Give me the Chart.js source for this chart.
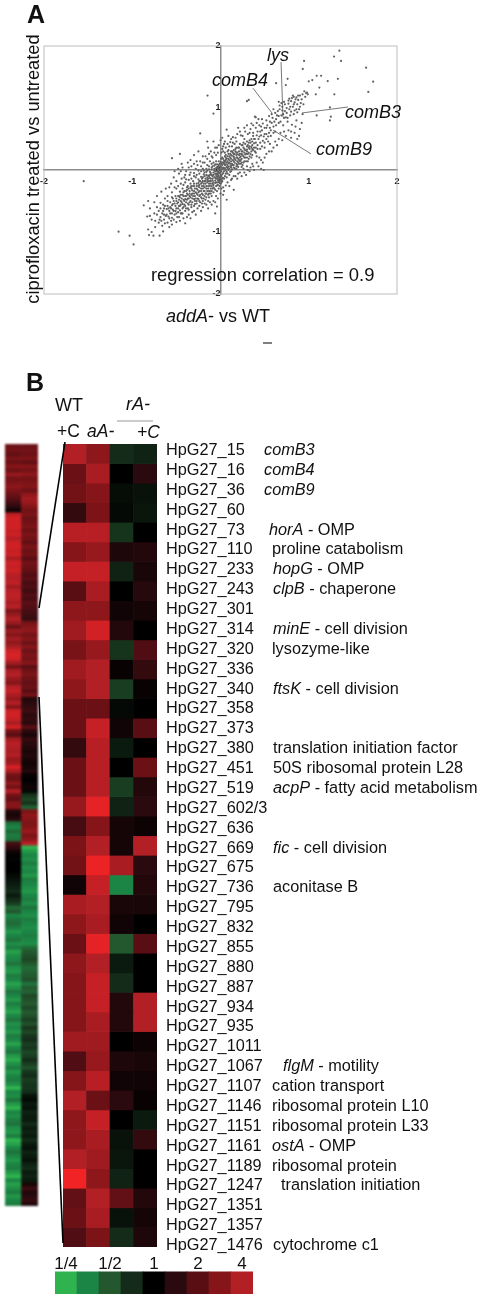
<!DOCTYPE html>
<html>
<head>
<meta charset="utf-8">
<script src="https://cdn.jsdelivr.net/npm/chart.js@4"></script>
<style>
  html, body { margin: 0; padding: 0; background: #fff; }
  #page { position: relative; width: 484px; height: 1300px; overflow: hidden; font-family: "Liberation Sans", Arial, sans-serif; color: #111; }
  canvas { position: absolute; }
  .t { position: absolute; white-space: pre; line-height: 1; transform: translateY(-50%); }
  .i { font-style: italic; }
  .b { font-weight: bold; }
</style>
</head>
<body>
<div id="page">
  <canvas id="scatter" width="484" height="340" style="left:0;top:0;filter:blur(0.3px)"></canvas>
  <canvas id="overview" width="33" height="762" style="left:5px;top:444px;filter:blur(1.1px)"></canvas>
  <canvas id="detail" width="94" height="803" style="left:63px;top:444px;filter:blur(0.5px)"></canvas>
  <canvas id="legend" width="198" height="37" style="left:55px;top:1257px;filter:blur(0.3px)"></canvas>
  <canvas id="connectors" width="484" height="1300" style="left:0;top:0"></canvas>

  <span class="t b" style="left:27px;top:14px;font-size:25px">A</span>
  <span class="t" style="left:33px;top:169px;font-size:18.3px;transform:translate(-50%,-50%) rotate(-90deg)">ciprofloxacin treated vs untreated</span>
  <span class="t" style="left:166px;top:316px;font-size:18px"><span class="i">addA</span>- vs WT</span>
  <span class="t" style="left:151px;top:275px;font-size:18.4px">regression correlation = 0.9</span>
  <span class="t i" style="left:267px;top:55px;font-size:18px">lys</span>
  <span class="t i" style="left:212px;top:80px;font-size:18px">comB4</span>
  <span class="t i" style="left:345px;top:112px;font-size:18px">comB3</span>
  <span class="t i" style="left:316px;top:149px;font-size:18px">comB9</span>

  <span class="t b" style="left:26px;top:382px;font-size:25px">B</span>
  <span class="t" style="left:55px;top:405px;font-size:18px">WT</span>
  <span class="t" style="left:57px;top:432px;font-size:17.5px">+C</span>
  <span class="t i" style="left:87px;top:432px;font-size:17.5px">aA-</span>
  <span class="t i" style="left:126px;top:404px;font-size:18px">rA-</span>
  <span class="t i" style="left:137px;top:433px;font-size:17.5px">+C</span>
</div>
<script>
  // 图 A: 散点 [addA- vs WT, ciprofloxacin treated vs untreated]
  const scatterPoints = [
    [-1.55,-.18],[-1.155,-.995],[-1.03,-1.06],[-.985,-1.2],[-.147,1.2],[-.08,.91],[.32,1.13],[.3,1.11],
    [1.347,1.925],[1.287,1.83],[1.366,1.76],[.947,1.76],[.932,1.63],[1.65,1.65],[1.73,1.425],[1.675,1.26],[1.33,1.47],[1.215,1.435],
    [1.14,1.52],[1.09,1.52],[1.04,1.45],[1,1.43],[1.12,1.33],[1.08,1.22],[1.29,1.22],[1.24,1.01],[1.25,.86],[1.24,.8],[1.09,.88],
    [.97,1.24],[.76,1.47],[.63,1.4],[.74,1.37],[.66,1.1],[.83,1.18],[.98,1.25],[.95,1.27],[.99,1.22],[.9,1.2],[.86,1.17],[.82,1.2],
    [.78,1.15],[.72,1.1],[.69,1.08],[.77,1.07],[.8,1.11],[.84,1.09],[.88,1.13],[.91,1.08],[.75,1],[.7,1.02],[.67,.98],[.73,.95],[.78,.98],[.82,1.02],[.86,.98],[.9,1.02],[.94,1.06],[.87,.93],[.83,.9],[.79,.88],[.74,.85],[.71,.9],[.66,.87],[.62,.92],[.6,.98],[.58,.9],[.55,.87],[.63,.82],[.68,.78],[.76,.78],[.81,.73],[.86,.8],[.93,.9],[.92,.76],[.84,.6],[.89,.55],[.87,.5],[.8,.52],[.74,.55],[.7,.48],[.64,.4],[.58,.3],
    [.56,.78],[.52,.8],[.48,.75],[.4,.85],[.39,.86],[.43,.82],[.46,.7],[.52,.68],[.57,.64],[.6,.7],[.62,.62],[.55,.6],[.5,.58],[.45,.62],[.4,.68],[.35,.75],[.3,.72],[.28,.62],[.33,.6],[.37,.55],[.43,.5],[.48,.47],[.52,.5],[.56,.42],[.47,.38],[.42,.4],[.38,.43],[.33,.48],[.27,.5],[.23,.56],[.2,.68],[.25,.4],[.3,.38],[.35,.3],[.4,.28],[.44,.2],[.48,.12],[.46,.02],[.49,0],[.38,0],[.36,.1],[.32,.18],[.28,.25],[.24,.3],[.2,.36],[.16,.42],[.12,.5],[.07,.65],[.09,.55],[.13,.38],[.18,.28],[.22,.2],[.26,.12],[.3,.06],[.33,-.02],[.24,.05],[.2,.12],[.16,.18],[.12,.24],[.08,.3],[.04,.42],[.02,.52],[0,.48],[.06,.2],[.1,.12],[.14,.08],[.18,.02],[.22,-.04],[.17,-.1],[.12,-.02],[.08,.03],[.04,.1],[.01,.18],[-.03,.28],[-.06,.36],[-.08,.46],[-.15,.46],[-.23,.59],[-.14,.36],
    [-.55,.19],[-.46,.26],[-.44,.1],[-.34,.16],[-.3,.24],[-.25,.3],[-.2,.22],[-.18,.12],[-.22,.06],[-.28,.02],[-.36,.04],[-.45,-.02],[-.47,-.06],[-.41,-.12],[-.35,-.08],[-.3,-.05],[-.25,-.01],[-.2,.02],[-.15,.08],[-.12,.14],[-.09,.2],[-.05,.14],[-.02,.08],[.01,.04],[.04,.02],[.07,-.03],[.1,-.08],[.13,-.14],[.15,-.32],[.07,-.48],[-.04,-.59],[-.06,-.7],[.03,-.4],[.06,-.25],[.02,-.18],[-.01,-.12],[-.04,-.06],[-.07,-.01],[-.1,.04],[-.13,.01],[-.16,-.03],[-.19,-.07],[-.22,-.11],[-.25,-.15],[-.28,-.12],[-.31,-.18],[-.34,-.22],[-.37,-.26],[-.4,-.2],[-.43,-.3],[-.46,-.35],
    [.11,.2],[.15,.26],[.19,.2],[.23,.16],[.27,.2],[.31,.26],[.35,.2],[.29,.14],[.25,.24],[.21,.3],[.17,.34],[.13,.3],[.09,.26],[.05,.22],[.03,.3],[.07,.12],[.11,.06],[.15,.14],[.19,.08],[.23,.1],[.26,.02],[.28,.32],[.32,.36],[.36,.4],[.4,.36],[.34,.44],[.38,.5],[.3,.46],[.26,.44],[.22,.42],[.18,.46],[.14,.44],[.1,.38],[.06,.36],[.02,.34],
    [-.02,.02],[-.04,-.02],[.0,-.03],[.02,-.07],[.05,-.1],[-.02,-.1],[-.05,-.14],[-.08,-.08],[-.11,-.05],[-.14,-.09],[-.12,-.13],[-.09,-.17],[-.06,-.21],[-.03,-.16],[0,-.22],[.03,-.28],[-.02,-.3],[-.05,-.26],[-.08,-.28],[-.11,-.22],[-.14,-.18],[-.17,-.14],[-.2,-.18],[-.17,-.22],[-.14,-.26],[-.11,-.3],[-.08,-.36],[-.05,-.42],[-.1,-.42],[-.13,-.34],[-.16,-.3],[-.19,-.26],[-.22,-.22],[-.25,-.26],[-.22,-.3],[-.19,-.34],[-.16,-.38],[-.13,-.44],[-.18,-.42],[-.21,-.38],[-.24,-.34],[-.27,-.3],[-.3,-.26],[-.33,-.3],[-.3,-.34],[-.27,-.38],[-.24,-.42],[-.21,-.46],[-.26,-.46],[-.29,-.42],[-.32,-.38],[-.35,-.34],[-.38,-.38],[-.35,-.42],[-.32,-.46],[-.29,-.5],[-.34,-.5],[-.37,-.46],[-.4,-.42],[-.43,-.4],[-.46,-.44],[-.42,-.48],[-.39,-.52],[-.36,-.56],[-.41,-.56],[-.44,-.52],[-.47,-.48],[-.5,-.46],[-.53,-.5],[-.49,-.54],[-.46,-.58],[-.43,-.62],[-.48,-.62],[-.51,-.58],[-.54,-.55],[-.57,-.52],[-.6,-.58],[-.56,-.62],[-.53,-.66],[-.5,-.7],[-.55,-.7],[-.58,-.66],[-.61,-.63],[-.64,-.62],[-.66,-.7],[-.62,-.74],[-.58,-.78],[-.53,-.8],[-.6,-.85],[-.64,-.8],[-.68,-.76],[-.72,-.72],[-.7,-.85],[-.66,-.9],[-.74,-.92],
    [-.87,-.57],[-.82,-.5],[-.8,-.62],[-.75,-.52],[-.83,-.75],[-.8,-.74],[-.82,-.96],[-.81,-1.05],[-.78,-1],[-.76,-1.06],[-.69,-1.06],[-.65,-.99],[-.72,-.6],[-.68,-.53],[-.63,-.46],[-.6,-.42],[-.55,-.36],[-.5,-.3],[-.56,-.22],[-.5,-.18],[-.44,-.14],[-.4,-.08],[-.34,-.04],[-.38,-.28],
    [-.24,-.06],[-.27,-.08],[-.3,-.1],[-.33,-.14],[-.36,-.16],[-.39,-.15],[-.42,-.24],[-.45,-.22],[-.48,-.26],[-.52,-.28],[-.55,-.44],[-.6,-.5],[-.65,-.56],[-.7,-.66],[-.75,-.7],[-.78,-.8],[-.74,-.82],[-.69,-.8],[-.64,-.72],[-.45,-.7],[-.4,-.66],[-.37,-.62],[-.33,-.6],[-.3,-.58],[-.27,-.54],[-.23,-.52],[-.2,-.5],[-.17,-.48],[-.14,-.5],[-.1,-.56],[-.16,-.56],[-.2,-.6],[-.26,-.62],[-.32,-.68],[-.36,-.72],[-.42,-.78],[-.46,-.82],[-.4,-.86],
    [-.09,-.1],[-.06,-.06],[-.03,-.08],[-.12,-.08],[-.15,-.12],[-.18,-.1],[-.21,-.14],[-.24,-.18],[-.27,-.22],[-.3,-.22],[-.33,-.26],[-.36,-.3],[-.39,-.34],[-.42,-.36],[-.45,-.4],[-.48,-.42],[-.51,-.42],[-.54,-.46],[-.24,-.24],[-.21,-.2],[-.18,-.18],[-.15,-.16],[-.12,-.18],[-.09,-.22],[-.06,-.12],[-.03,-.2],[0,-.16],[.03,-.13],[.06,-.06],[.09,.0],[.12,.04],[.15,.04],[.18,.1],[.21,.16],[.24,.12],[-.01,.1],[.02,.12],[.05,.08],[.08,.08],[.03,.18],[.06,.16],[.09,.18],[.12,.14],[.15,.2],[.18,.24],[.21,.24],[.24,.26],[.27,.28],[.3,.3],[.33,.34],[.36,.34],[.39,.3],[.42,.34],[.45,.44],[.5,.44],[.54,.54],[-.1,.1],[-.13,.06],[-.16,.02],[-.19,-.01],[-.22,-.02],[-.07,.07],[-.04,.04],[-.02,-.05],[.0,.0]
  ];

  // 中心密集带，按 x 从左到右补读
  const scatterCore = [
    [-.68,-.62],[-.67,-.82],[-.65,-.66],[-.63,-.58],[-.63,-.86],[-.61,-.72],[-.59,-.62],[-.59,-.75],[-.57,-.6],[-.57,-.7],[-.56,-.82],[-.55,-.57],[-.55,-.77],[-.54,-.64],[-.52,-.54],[-.52,-.72],[-.51,-.66],[-.5,-.5],[-.5,-.62],[-.49,-.76],[-.48,-.52],[-.48,-.68],[-.47,-.58],[-.47,-.42],[-.46,-.65],[-.45,-.5],[-.45,-.56],[-.44,-.46],[-.44,-.7],[-.43,-.55],[-.42,-.42],[-.42,-.6],[-.41,-.5],[-.41,-.34],[-.4,-.47],[-.4,-.58],[-.39,-.42],[-.39,-.62],[-.38,-.48],[-.38,-.32],[-.37,-.54],[-.37,-.4],[-.36,-.46],[-.36,-.64],[-.35,-.38],[-.35,-.52],[-.34,-.28],[-.34,-.44],[-.33,-.56],[-.33,-.4],[-.32,-.33],[-.32,-.52],[-.31,-.42],[-.31,-.26],[-.3,-.47],[-.3,-.38],[-.29,-.3],[-.29,-.55],[-.28,-.36],[-.28,-.46],[-.27,-.26],[-.27,-.5],[-.26,-.32],[-.26,-.4],[-.25,-.21],[-.25,-.47],[-.25,-.36],[-.24,-.28],[-.24,-.5],[-.23,-.4],[-.23,-.18],[-.22,-.34],[-.22,-.44],[-.21,-.26],[-.21,-.54],[-.2,-.3],[-.2,-.4],[-.2,-.12],[-.19,-.22],[-.19,-.46],[-.18,-.34],[-.18,-.04],[-.18,-.28],[-.17,-.18],[-.17,-.38],[-.16,-.26],[-.16,-.08],[-.16,-.44],[-.15,-.2],[-.15,-.34],[-.15,-.01],[-.14,-.14],[-.14,-.3],[-.14,-.4],[-.13,-.22],[-.13,-.1],[-.13,-.38],[-.12,-.03],[-.12,-.26],[-.12,-.34],[-.11,-.14],[-.11,-.18],[-.11,-.38],[-.1,-.08],[-.1,-.26],[-.1,.01],[-.1,-.34],[-.09,-.14],[-.09,-.3],[-.09,.06],[-.08,-.04],[-.08,-.2],[-.08,-.24],[-.08,.12],[-.07,-.12],[-.07,-.3],[-.07,.02],[-.06,-.17],[-.06,-.02],[-.06,-.32],[-.06,.09],[-.05,-.08],[-.05,-.2],[-.05,.03],[-.04,-.11],[-.04,-.25],[-.04,.09],[-.04,-.34],[-.03,-.03],[-.03,-.13],[-.03,.03],[-.03,-.24],[-.02,-.16],[-.02,.06],[-.02,.14],[-.01,-.05],[-.01,-.18],[-.01,.01],[-.01,-.26],[0,-.08],[0,.06],[0,-.13],[0,.13],[.01,-.02],[.01,-.1],[.01,.1],[.02,.02],[.02,-.13],[.02,.08],[.02,.2],[.03,-.05],[.03,.04],[.03,.12],[.04,-.02],[.04,-.14],[.04,.15],[.05,.03],[.05,.13],[.05,.28],[.06,0],[.06,.09],[.06,.24],[.07,.05],[.07,.18],[.07,-.12],[.08,.14],[.08,.22],[.08,-.06],[.09,.05],[.09,.11],[.09,.32],[.1,.02],[.1,.16],[.1,.22],[.11,.1],[.11,.26],[.11,-.03],[.12,.07],[.12,.18],[.12,.3],[.13,.1],[.13,.23],[.13,.01],[.14,.16],[.14,.28],[.15,.08],[.15,.22],[.15,.32],[.16,.12],[.16,.26],[.16,.03],[.17,.16],[.17,.3],[.18,.06],[.18,.2],[.18,.36],[.19,.14],[.19,.28],[.2,.18],[.2,.25],[.2,.05],[.21,.1],[.21,.36],[.22,.14],[.22,.26],[.23,.22],[.23,.33],[.24,.18],[.24,.4],[.25,.08],[.25,.3],[.26,.22],[.26,.36],[.27,.14],[.27,.34],[.28,.2],[.28,.42],[.29,.26],[.3,.2],[.3,.33],[.31,.14],[.31,.4],[.32,.28],[.32,.44],[.33,.22],[.33,.38],[.34,.26],[.35,.37],[.35,.5],[.36,.24],[.36,.46],[.37,.32],[.37,.6],[.38,.36],[.39,.5],[.4,.44],[.41,.56],[.41,.22],[.42,.62],[.44,.54],[.45,.34],[.46,.56],[.47,.64],[.49,.54],[.5,.68],[.5,.36],[.52,.58],[.53,.72],[.54,.46],[.56,.68],[.57,.55],[.58,.76],[.59,.84],[.6,.6],[.61,.78],[.63,.72],[.64,.88],[.65,.95],[.66,.76],[.67,1.04],[.69,.88],[.7,.96],[.71,.72],[.72,.84],[.73,1.06],[.75,.92],[.76,.84],[.77,1.12],[.79,1.02],[.8,.94],[.81,1.16],[.83,1.06],[.84,.96],[.85,1.14],[.87,1.06],[.88,1.2],[.89,.98],[.92,1.14],[.93,1.22],[.96,1.18]
  ];

  // 带状边缘的散点
  const scatterFringe = [
    [-.72,-.42],[-.67,-.35],[-.62,-.3],[-.58,-.28],[-.53,-.12],[-.52,-.02],[-.48,.02],[-.43,.04],[-.39,-.02],[-.37,.12],[-.33,.06],[-.3,.1],[-.27,.14],[-.26,.08],[-.23,.14],[-.2,.12],[-.17,.22],[-.15,.18],[-.13,.26],[-.11,.3],[-.1,.22],[-.07,.28],[-.05,.24],[-.04,.36],[-.02,.4],[.01,.28],[.03,.38],[.05,.46],[.08,.42],[.11,.45],[.14,.53],[.17,.52],[.19,.58],[.22,.62],[.25,.55],[.27,.68],[.31,.58],[.34,.66],[.37,.72],[.41,.76],[.44,.72],[.47,.82],
    [-.58,-.92],[-.55,-.88],[-.5,-.84],[-.47,-.76],[-.43,-.7],[-.38,-.76],[-.34,-.78],[-.3,-.66],[-.28,-.72],[-.24,-.58],[-.22,-.66],[-.18,-.54],[-.14,-.62],[-.12,-.52],[-.08,-.5],[-.06,-.52],[-.03,-.46],[0,-.38],[.01,-.3],[.04,-.34],[.08,-.2],[.1,-.26],[.12,-.16],[.15,-.1],[.19,-.14],[.2,-.06],[.24,-.1],[.27,-.04],[.29,-.08],[.31,0],[.34,.04],[.37,.06],[.41,.12],[.43,.06],[.46,.16],[.5,.2],[.52,.26],[.55,.3],[.6,.36],[.62,.46],[.66,.5],[.68,.6],[.72,.62],[.77,.64],[.8,.62],[.85,.7],[.9,.66]
  ];

  // 引线 lys / comB4 / comB3 / comB9
  const lysLine = [{x:.686,y:1.74},{x:.708,y:.855}];
  const comB4Line = [{x:.368,y:1.32},{x:.583,y:.92}];
  const comB3Line = [{x:1.444,y:1.016},{x:.923,y:.92}];
  const comB9Line = [{x:1.025,y:.26},{x:.595,y:.645}];

  // 图 B: 41 个基因的四列 log2 比值，从颜色估读
  const geneIds = ['15','16','36','60','73','110','233','243','301','314','320','336','340','358','373','380','451','519','602/3','636','669','675','736','795','832','855','880','887','934','935','1011','1067','1107','1146','1151','1161','1189','1247','1351','1357','1476'];
  const wtC = [2.0,1.2,1.3,.6,2.1,1.5,2.3,1.0,1.6,1.8,1.35,1.8,1.6,1.2,1.2,.6,1.2,1.2,1.7,.8,1.4,1.3,.2,1.9,1.6,1.2,1.6,1.5,1.5,1.5,1.8,.9,1.5,2.0,1.6,1.6,2.0,3.0,1.1,1.2,.9];
  const aA = [1.6,1.9,1.5,1.4,2.1,1.7,2.3,1.9,1.6,2.5,1.7,2.0,2.0,1.2,2.3,2.1,2.1,2.1,2.8,1.5,2.0,2.9,2.3,2.0,1.9,2.8,2.0,2.3,2.3,1.9,1.8,1.7,2.1,1.2,2.3,1.9,1.8,1.6,2.0,1.9,1.4];
  const rA = [-.5,0,-.15,-.1,-.6,.35,-.4,0,.2,.4,-.6,.1,-.7,-.1,.2,-.3,0,-.7,-.4,.25,.25,1.9,-1.5,.3,.2,-1.0,-.3,-.5,.4,.4,0,.35,.2,.5,0,-.2,-.25,-.4,1.1,-.2,-.5];
  const rAC = [-.4,.5,-.2,-.25,0,.4,.3,.45,.25,0,.9,.6,.1,0,1.0,0,1.2,.4,.5,.15,2.0,.5,.4,.3,0,1.0,0,0,2.0,2.0,.15,.3,.2,.1,-.3,.6,0,0,.4,.25,.35];

  // 基因注释: [行号, 斜体部分, 正常部分, 左边 x]
  const geneNotes = [
    [0,'comB3','',264],[1,'comB4','',264],[2,'comB9','',264],
    [4,'horA',' - OMP',269],[5,'','proline catabolism',272],[6,'hopG',' - OMP',273],
    [7,'clpB',' - chaperone',273],[9,'minE',' - cell division',273],[10,'','lysozyme-like',272],
    [12,'ftsK',' - cell division',273],[15,'','translation initiation factor',273],[16,'','50S ribosomal protein L28',273],
    [17,'acpP',' - fatty acid metabolism',273],[20,'fic',' - cell division',273],[22,'','aconitase B',273],
    [31,'flgM',' - motility',283],[32,'','cation transport',272],[33,'','ribosomal protein L10',272],
    [34,'','ribosomal protein L33',272],[35,'ostA',' - OMP',272],[36,'','ribosomal protein',272],
    [37,'','translation initiation',281],[40,'','cytochrome c1',273]
  ];

  // 左侧总览热图两列，每 10 个一行（每行约 40px）
  const overviewLeft = [
    1.2,1.3,1.1,1.4,1.2,1.5,1.2,1.7,1.3,1.4,
    1.6,1.4,1.2,1.0,.8,.5,.2,2.2,2.5,2.4,
    2.5,2.3,2.4,2.0,2.4,2.5,2.3,2.4,1.9,2.4,
    2.3,2.4,2.1,2.0,2.2,1.8,2.1,2.2,2.1,1.9,
    2.1,1.4,1.7,2.0,1.7,1.2,1.7,1.5,1.8,1.6,
    1.9,2.4,2.6,2.4,1.8,1.3,1.9,2.0,1.7,1.5,
    2.0,2.3,1.9,1.7,2.0,1.5,2.4,2.5,2.3,1.9,
    2.5,1.3,1.0,1.8,2.1,2.0,1.9,2.0,1.7,1.8,
    2.6,1.9,1.3,1.2,1.6,1.3,2.0,1.3,1.1,1.5,
    1.5,.4,.3,.5,-1.3,-1.5,-1.2,-1.4,-1.3,.8,
    .6,.2,.05,-.05,0,0,0,-.1,-.2,-.3,
    -.4,-.5,-.3,-.5,-.7,-1.2,-1.0,-1.5,-1.3,-1.2,
    -1.4,-1.7,-1.5,-1.3,-1.6,-1.4,-1.8,-1.6,-1.5,-1.3,
    -1.6,-1.7,-1.4,-1.5,-1.8,-1.6,-1.3,-1.5,-1.7,-1.4,
    -1.6,-1.8,-1.5,-1.3,-1.6,-1.5,-1.7,-1.4,-1.5,-1.8,
    -1.5,-1.3,-1.7,-1.9,-1.6,-1.4,-1.7,-1.5,-1.4,-1.6,
    -2.1,-1.5,-1.6,-1.3,-1.7,-2.2,-1.5,-1.6,-1.4,-1.3,
    -1.6,-1.7,-1.4,-2.2,-1.8,-1.5,-1.3,-1.5,-1.7,-1.5,
    -1.4,-1.7,-2,-1.5,-1.8,-1.6,-1.4,-1.7,-1.5,-1.4
  ];
  const overviewRight = [
    1.2,1.3,1.2,1.4,1.1,1.5,1.3,1.6,1.3,1.4,
    1.5,1.2,1.6,1.8,1.7,1.5,1.3,1.4,1.2,1.3,
    1.4,1.2,1.4,1.3,1.1,1.4,1.2,1.3,1.0,1.3,
    1.2,1.1,.9,1.0,.8,.9,.7,.9,.8,1.0,
    .9,.8,.7,.6,1.3,1.5,1.6,1.3,1.5,1.2,
    1.5,1.2,1.4,1.3,1.5,1.0,1.3,1.4,1.2,1.1,
    1.2,1.0,1.3,.4,.5,.6,.7,.5,.6,.5,
    1.0,.5,.3,.6,.5,.4,.3,.4,.3,.2,
    .3,.4,.1,0,.1,.2,-.1,-.6,-.8,-.6,
    -1.1,1.4,1.6,1.5,1.4,1.5,1.7,1.4,1.6,2.1,
    -2,-1.7,-1.5,-1.6,-1.4,-1.6,-1.5,-1.7,-1.4,-1.5,
    -1.6,-1.7,-1.5,-1.4,-1.6,-1.3,-1.5,-1.6,-1.4,-1.5,
    -1.6,-1.5,-1.4,-1.5,-1.6,-1.2,-1.0,-.9,-.8,-1.0,
    -1.2,-1.1,-1.0,-.9,-1.3,-1.0,-1.1,-.8,-.9,-1.0,
    -.8,-1.0,-.9,-.7,-.9,-.6,-.8,-.6,-.5,-.7,
    -.6,-.8,-.7,-.5,-.7,-.9,-.6,-.5,-.7,-.6,
    -.6,-.5,-.2,-.1,-.3,-.2,-.4,-.3,-.3,-.5,
    -.3,-.4,-.3,-.5,-.3,-.2,-.4,-.3,-.2,-.4,
    -.5,-.3,-.4,-.3,.3,.7,.4,.5,.6,.4
  ];

  // 色标
  const legendValues = [-2,-1.5,-1,-.5,0,.5,1,1.5,2];
  const legendColors = ['#2fb34f','#1b8545','#23582e','#132b18','#000000','#2a0a0e','#590e14','#851518','#b21f25'];
  const legendTicks = ['1/4','','1/2','','1','','2','','4'];

  function hexToRgb(hex) {
    return [1, 3, 5].map(function (i) { return parseInt(hex.substr(i, 2), 16); });
  }

  // 比值 -> 颜色，超过 4 倍继续变亮
  function heatColor(v) {
    const stops = legendValues.concat([3]);
    const cols = legendColors.concat(['#f22325']);
    if (v <= stops[0]) return cols[0];
    for (let i = 1; i < stops.length; i++) {
      if (v <= stops[i]) {
        const f = (v - stops[i - 1]) / (stops[i] - stops[i - 1]);
        const a = hexToRgb(cols[i - 1]);
        const b = hexToRgb(cols[i]);
        return 'rgb(' + a.map(function (c, k) { return Math.round(c + (b[k] - c) * f); }).join(',') + ')';
      }
    }
    return cols[cols.length - 1];
  }

  function heatmapConfig(columnLabels, columns) {
    const rows = columns[0].length;
    const datasets = [];
    for (let r = 0; r < rows; r++) {
      datasets.push({
        data: columns.map(function () { return 1; }),
        backgroundColor: columns.map(function (c) { return heatColor(c[r]); }),
        barPercentage: 1,
        categoryPercentage: 1,
        borderWidth: 0
      });
    }
    return {
      type: 'bar',
      data: { labels: columnLabels, datasets: datasets },
      options: {
        responsive: false,
        animation: false,
        layout: { padding: 0 },
        plugins: { legend: { display: false }, tooltip: { enabled: false } },
        scales: {
          x: { stacked: true, display: false },
          y: { stacked: true, display: false, reverse: true, min: 0, max: rows }
        }
      }
    };
  }

  // 图框
  const plotBox = {
    id: 'plotBox',
    beforeDatasetsDraw: function (chart) {
      const a = chart.chartArea;
      const ctx = chart.ctx;
      ctx.save();
      ctx.strokeStyle = '#bdbdbd';
      ctx.lineWidth = 1;
      ctx.strokeRect(a.left, a.top, a.right - a.left, a.bottom - a.top);
      ctx.restore();
    }
  };

  function leader(points) {
    return { type: 'line', data: points, showLine: true, pointRadius: 0, borderColor: '#555', borderWidth: 0.8, order: 0 };
  }

  new Chart(document.getElementById('scatter'), {
    type: 'scatter',
    data: {
      datasets: [
        {
          data: scatterPoints.concat(scatterCore, scatterFringe).map(function (p) { return { x: p[0], y: p[1] }; }),
          backgroundColor: '#606060',
          borderWidth: 0,
          pointRadius: 1.1,
          order: 1
        },
        leader(lysLine), leader(comB4Line), leader(comB3Line), leader(comB9Line)
      ]
    },
    options: {
      responsive: false,
      animation: false,
      layout: { padding: { left: 44, top: 46, right: 87, bottom: 46 } },
      plugins: { legend: { display: false }, tooltip: { enabled: false } },
      scales: {
        x: {
          type: 'linear', min: -2, max: 2, position: { y: 0 },
          grid: { display: false, drawTicks: false },
          border: { color: '#8c8c8c', width: 1.5 },
          ticks: { stepSize: 1, padding: 6, color: '#222', font: { size: 9, weight: 'bold', family: 'Liberation Sans' }, maxRotation: 0 }
        },
        y: {
          type: 'linear', min: -2, max: 2, position: { x: 0 },
          grid: { display: false, drawTicks: false },
          border: { color: '#8c8c8c', width: 1.5 },
          ticks: { stepSize: 1, padding: 3, color: '#222', font: { size: 9, weight: 'bold', family: 'Liberation Sans' } }
        }
      }
    },
    plugins: [plotBox]
  });

  new Chart(document.getElementById('overview'), heatmapConfig(['left', 'right'], [overviewLeft, overviewRight]));
  new Chart(document.getElementById('detail'), heatmapConfig(['WT +C', 'aA-', 'rA-', 'rA- +C'], [wtC, aA, rA, rAC]));

  new Chart(document.getElementById('legend'), {
    type: 'bar',
    data: {
      labels: legendTicks,
      datasets: [{
        data: legendValues.map(function () { return 1; }),
        backgroundColor: legendValues.map(heatColor),
        barPercentage: 1,
        categoryPercentage: 1,
        borderWidth: 0
      }]
    },
    options: {
      responsive: false,
      animation: false,
      layout: { padding: 0 },
      plugins: { legend: { display: false }, tooltip: { enabled: false } },
      scales: {
        x: {
          position: 'top',
          grid: { display: false, drawTicks: false },
          border: { display: false },
          ticks: { autoSkip: false, maxRotation: 0, padding: -3, color: '#111', font: { size: 17, family: 'Liberation Sans' } }
        },
        y: { display: false, min: 0, max: 1 }
      }
    }
  });

  // 连接线 (页面像素坐标的透明图层)
  const connectorTop = [{x:39,y:608},{x:65,y:442}];
  const connectorBottom = [{x:39,y:697},{x:63,y:1243}];
  const rAUnderline = [{x:117,y:421},{x:153,y:421}];
  const smudge = [{x:263,y:343},{x:272,y:343}];

  function pageLine(points, color, width) {
    return { data: points, showLine: true, pointRadius: 0, borderColor: color, borderWidth: width };
  }

  new Chart(document.getElementById('connectors'), {
    type: 'scatter',
    data: {
      datasets: [
        pageLine(connectorTop, '#000', 1.6),
        pageLine(connectorBottom, '#000', 1.6),
        pageLine(rAUnderline, '#999', 1),
        pageLine(smudge, '#555', 1.5)
      ]
    },
    options: {
      responsive: false,
      animation: false,
      layout: { padding: 0 },
      plugins: { legend: { display: false }, tooltip: { enabled: false } },
      scales: {
        x: { type: 'linear', display: false, min: 0, max: 484 },
        y: { type: 'linear', display: false, min: 0, max: 1300, reverse: true }
      }
    }
  });

  // 基因文字: 文字行距略大于热图行高
  const page = document.getElementById('page');
  const labelTop = 449;
  const labelStep = 19.875;

  function addText(text, italic, x, y) {
    const span = document.createElement('span');
    span.className = italic ? 't i' : 't';
    span.style.left = x + 'px';
    span.style.top = y + 'px';
    span.style.fontSize = '16.3px';
    span.textContent = text;
    page.appendChild(span);
    return span;
  }

  geneIds.forEach(function (id, i) {
    addText('HpG27_' + id, false, 166, labelTop + labelStep * i);
  });

  geneNotes.forEach(function (n) {
    const span = addText('', false, n[3], labelTop + labelStep * n[0]);
    if (n[1]) {
      const em = document.createElement('span');
      em.className = 'i';
      em.textContent = n[1];
      span.appendChild(em);
    }
    span.appendChild(document.createTextNode(n[2]));
  });
</script>
</body>
</html>
